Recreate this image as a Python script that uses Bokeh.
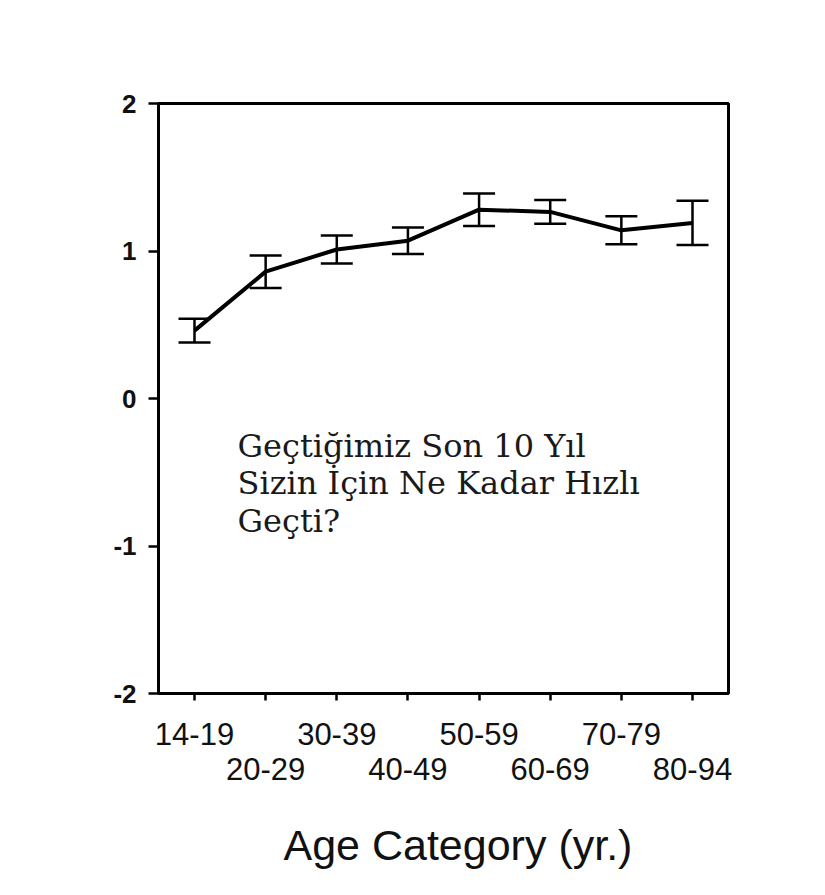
from bokeh.plotting import figure
from bokeh.models import (Range1d, LinearAxis, FixedTicker, Whisker, TeeHead,
                          ColumnDataSource, Label, Title)
from bokeh.embed import file_html
from bokeh.resources import INLINE

categories = ["14-19", "20-29", "30-39", "40-49", "50-59", "60-69", "70-79", "80-94"]
means = [0.46, 0.86, 1.01, 1.07, 1.28, 1.265, 1.14, 1.19]
errors = [0.08, 0.11, 0.095, 0.09, 0.11, 0.08, 0.095, 0.15]
y_ticks = [-2, -1, 0, 1, 2]
y_tick_labels = ["-2", "-1", "0", "1", "2"]
note_lines = ["Geçtiğimiz Son 10 Yıl", "Sizin İçin Ne Kadar Hızlı", "Geçti?"]
axis_title = "Age Category (yr.)"

xs = list(range(len(categories)))
lower = [m - e for m, e in zip(means, errors)]
upper = [m + e for m, e in zip(means, errors)]
src = ColumnDataSource(dict(x=xs, mean=means, lower=lower, upper=upper))

p = figure(frame_width=570, frame_height=590,
           x_range=Range1d(-0.506, 7.506), y_range=Range1d(-2, 2),
           output_backend="svg", toolbar_location=None,
           x_axis_location=None,
           min_border_left=158, min_border_top=103,
           min_border_right=89, min_border_bottom=190)
p.grid.visible = False
p.outline_line_color = "black"
p.outline_line_width = 3
p.background_fill_color = "white"
p.border_fill_color = "white"

ya = p.yaxis[0]
ya.ticker = FixedTicker(ticks=y_ticks)
ya.major_label_overrides = {t: s for t, s in zip(y_ticks, y_tick_labels)}
ya.major_tick_out = 10
ya.major_tick_in = 0
ya.minor_tick_line_color = None
ya.axis_line_width = 3
ya.major_tick_line_width = 2.5
ya.major_label_text_font = "Liberation Sans"
ya.major_label_text_font_size = "26px"
ya.major_label_text_font_style = "bold"
ya.major_label_text_color = "#111111"
ya.major_label_standoff = 12

row1 = {i: (c if i % 2 == 0 else "") for i, c in enumerate(categories)}
row2 = {i: (c if i % 2 == 1 else "") for i, c in enumerate(categories)}

xa1 = LinearAxis(ticker=FixedTicker(ticks=xs), major_label_overrides=row1)
xa1.major_tick_out = 7
xa1.major_tick_in = 0
xa1.minor_tick_line_color = None
xa1.axis_line_width = 3
xa1.major_tick_line_width = 2.5
xa1.major_label_text_font = "Liberation Sans"
xa1.major_label_text_font_size = "31px"
xa1.major_label_text_color = "#111111"
xa1.major_label_standoff = 22
p.add_layout(xa1, "below")

xa2 = LinearAxis(ticker=FixedTicker(ticks=xs), major_label_overrides=row2)
xa2.major_tick_out = 0
xa2.major_tick_in = 0
xa2.minor_tick_line_color = None
xa2.major_tick_line_color = None
xa2.axis_line_color = None
xa2.major_label_text_font = "Liberation Sans"
xa2.major_label_text_font_size = "31px"
xa2.major_label_text_color = "#111111"
xa2.major_label_standoff = 10
p.add_layout(xa2, "below")

p.add_layout(Title(text=axis_title, align="left", offset=125, standoff=72,
                   text_font="Liberation Sans", text_font_size="43px",
                   text_font_style="normal", text_color="#111111"), "below")

p.line("x", "mean", source=src, line_width=4, line_color="black")
p.add_layout(Whisker(source=src, base="x", upper="upper", lower="lower",
                     line_width=2.5, line_color="black",
                     upper_head=TeeHead(size=32, line_width=2.5, line_color="black"),
                     lower_head=TeeHead(size=32, line_width=2.5, line_color="black")))

note_x = 0.604
note_y0 = -0.32
note_step = 0.255
for i, line in enumerate(note_lines):
    p.add_layout(Label(x=note_x, y=note_y0 - i * note_step, text=line,
                       text_align="left", text_baseline="alphabetic",
                       text_font="DejaVu Serif", text_font_size="32px",
                       text_color="#1a1a1a"))

open("out.html", "w").write(file_html(p, INLINE))
